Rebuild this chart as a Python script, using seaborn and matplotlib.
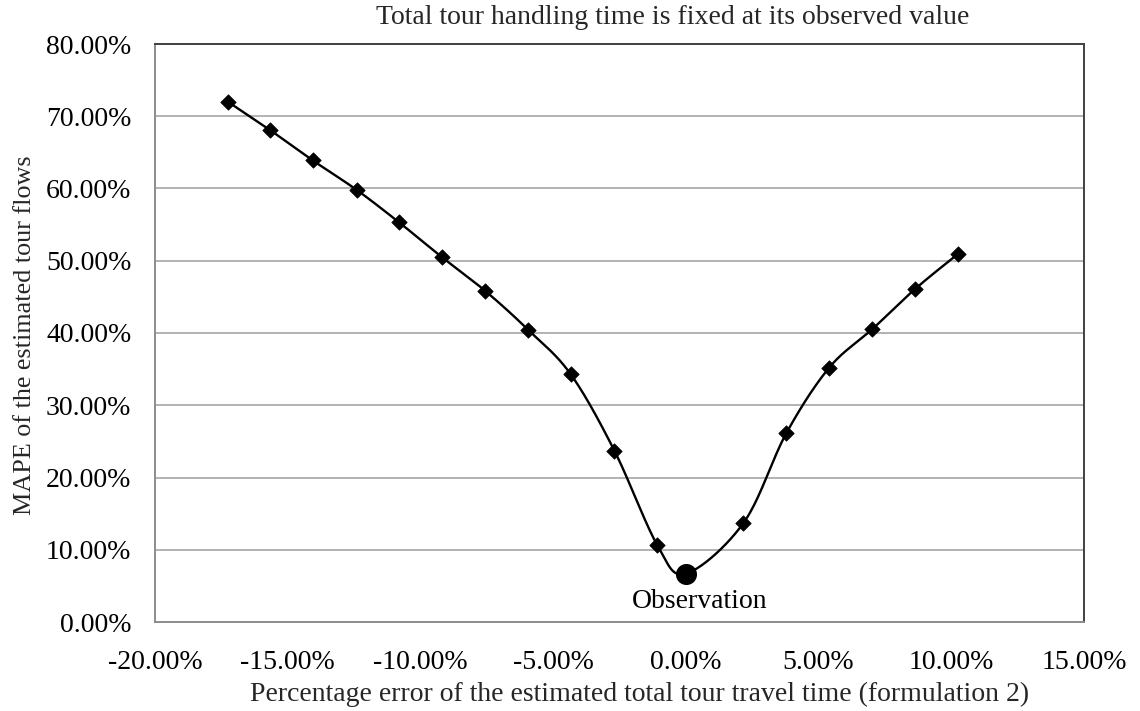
import numpy as np
import pandas as pd
import matplotlib
matplotlib.use("Agg")
import matplotlib.pyplot as plt
from matplotlib.ticker import PercentFormatter, MultipleLocator
import seaborn as sns

# Percentage error of the estimated total tour travel time (%)
travel_time_error = [-17.25, -15.67, -14.06, -12.40, -10.80, -9.19, -7.55, -5.93,
                     -4.34, -2.69, -1.07, 0.00, 2.17, 3.78, 5.40, 7.03, 8.64, 10.27]
# MAPE of the estimated tour flows (%)
mape_flows = [72.0, 68.1, 63.9, 59.8, 55.3, 50.5, 45.8, 40.4,
              34.3, 23.7, 10.6, 6.7, 13.7, 26.1, 35.2, 40.55, 46.1, 51.0]
observation_index = 11
observation_label = "Observation"

title_text = "Total tour handling time is fixed at its observed value"
x_label = "Percentage error of the estimated total tour travel time (formulation 2)"
y_label = "MAPE of the estimated tour flows"


def smooth_curve(xs, ys, steps=40):
    """Bezier smoothing through every point (Catmull-Rom style tangents)."""
    pts = np.column_stack([xs, ys]).astype(float)
    n = len(pts)
    out = [pts[0]]
    t = np.linspace(0, 1, steps)[1:, None]
    for i in range(n - 1):
        p0 = pts[i - 1] if i > 0 else pts[i]
        p1, p2 = pts[i], pts[i + 1]
        p3 = pts[i + 2] if i + 2 < n else pts[i + 1]
        c1 = p1 + (p2 - p0) / 6.0
        c2 = p2 - (p3 - p1) / 6.0
        seg = ((1 - t) ** 3) * p1 + 3 * ((1 - t) ** 2) * t * c1 + 3 * (1 - t) * t ** 2 * c2 + t ** 3 * p2
        out.extend(seg)
    out = np.array(out)
    return out[:, 0], out[:, 1]


sns.set_theme(style="white")
plt.rcParams["font.family"] = ["Liberation Serif", "DejaVu Serif"]
plt.rcParams["axes.unicode_minus"] = False

fig = plt.figure(figsize=(11.4, 7.11), dpi=100)
W, H = 1140, 711
ax = fig.add_axes([155 / W, 1 - 622 / H, (1084 - 155) / W, (622 - 44) / H])

df = pd.DataFrame({"x": travel_time_error, "y": mape_flows})
sx, sy = smooth_curve(df["x"].values, df["y"].values)
curve = pd.DataFrame({"x": sx, "y": sy})

sns.lineplot(data=curve, x="x", y="y", ax=ax, color="black", lw=1.7,
             sort=False, estimator=None, zorder=3)

markers = df.drop(index=observation_index)
sns.scatterplot(data=markers, x="x", y="y", ax=ax, marker="D", s=62,
                color="black", edgecolor="black", linewidth=0.5, zorder=4)

obs = df.iloc[[observation_index]]
sns.scatterplot(data=obs, x="x", y="y", ax=ax, marker="o", s=230,
                color="black", edgecolor="black", linewidth=0, zorder=5)
ax.annotate(observation_label, (obs["x"].iloc[0], obs["y"].iloc[0]),
            xytext=(10, -25), textcoords="offset points",
            ha="center", va="baseline", fontsize=20, color="black")

ax.set_xlim(-20, 15)
ax.set_ylim(0, 80)
ax.xaxis.set_major_locator(MultipleLocator(5))
ax.yaxis.set_major_locator(MultipleLocator(10))
ax.xaxis.set_major_formatter(PercentFormatter(decimals=2))
ax.yaxis.set_major_formatter(PercentFormatter(decimals=2))
ax.tick_params(axis="both", length=0, labelsize=20, colors="black")
ax.tick_params(axis="x", pad=20)
ax.tick_params(axis="y", pad=17)

ax.grid(axis="y", color="#a6a6a6", lw=1.2)
ax.grid(axis="x", visible=False)
ax.set_axisbelow(True)

for side in ("left", "bottom"):
    ax.spines[side].set_color("#8c8c8c")
    ax.spines[side].set_linewidth(1.4)
for side in ("top", "right"):
    ax.spines[side].set_color("#404040")
    ax.spines[side].set_linewidth(1.4)
    ax.spines[side].set_visible(True)

ax.set_xlabel("")
ax.set_ylabel("")
fig.text(640 / W, 1 - 694 / H, x_label, ha="center", va="center", fontsize=20)
fig.text(25 / W, 1 - 335 / H, y_label, ha="center", va="center", rotation=90, fontsize=18.8)
fig.text(673 / W, 1 - 18 / H, title_text, ha="center", va="center", fontsize=20)

fig.savefig("out.png", dpi=100, facecolor="white")
